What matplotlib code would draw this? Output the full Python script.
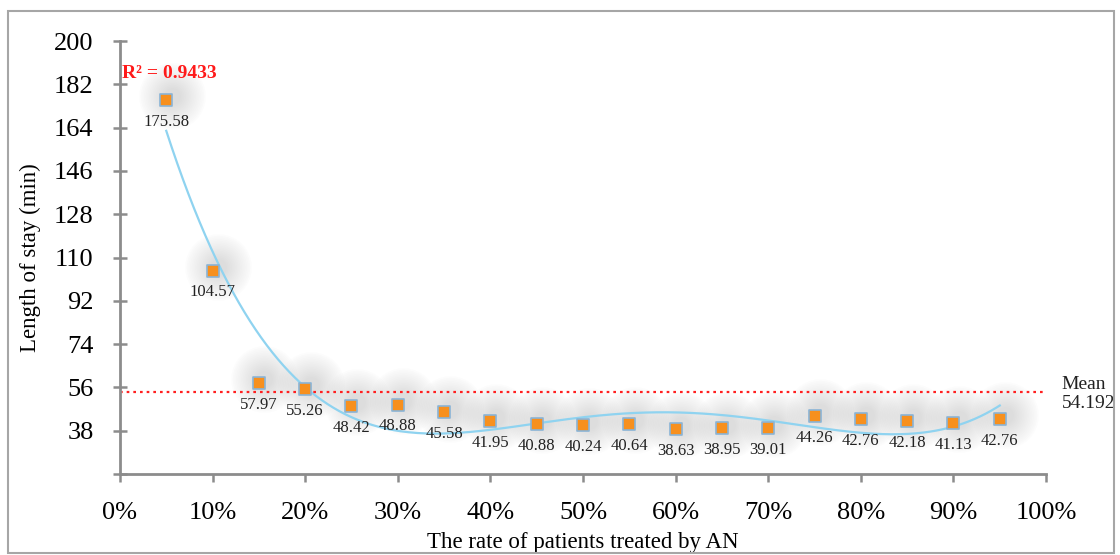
import numpy as np
import matplotlib
matplotlib.use("Agg")
import matplotlib.pyplot as plt
from matplotlib.patches import Rectangle

rates = [5, 10, 15, 20, 25, 30, 35, 40, 45, 50, 55, 60, 65, 70, 75, 80, 85, 90, 95]
stay = [175.58, 104.57, 57.97, 55.26, 48.42, 48.88, 45.58, 41.95, 40.88, 40.24,
        40.64, 38.63, 38.95, 39.01, 44.26, 42.76, 42.18, 41.13, 42.76]
mean_value = 54.192
r2_text = "R² = 0.9433"
yticks = [20, 38, 56, 74, 92, 110, 128, 146, 164, 182, 200]
xticks = [0, 10, 20, 30, 40, 50, 60, 70, 80, 90, 100]

plt.rcParams['font.family'] = ['Liberation Serif', 'DejaVu Serif']

fig = plt.figure(figsize=(11.2, 5.55), dpi=100)
ax = fig.add_axes([0.1071, 0.146, 0.8269, 0.780])

# figure border
fig.patches.append(Rectangle((0.007, 0.004), 0.988, 0.976, transform=fig.transFigure,
                             fill=False, edgecolor='#a6a6a6', lw=1.5, zorder=10))

x = np.array(rates, float)
y = np.array(stay, float)

# soft shadows
for r in np.linspace(48, 12, 16):
    ax.scatter(x + 0.6, y + 1.6, s=r**2, color='#7a7a7a', alpha=0.016, lw=0, zorder=1)

# polynomial trend line (order 4)
coef = np.polyfit(x, y, 4)
xs = np.linspace(5, 95, 300)
ax.plot(xs, np.polyval(coef, xs), color='#8fd3f0', lw=1.6, zorder=2)

# mean line
ax.plot([0, 100], [mean_value, mean_value], color='#ff2020', lw=1.6,
        linestyle=(0, (1.2, 1.8)), zorder=2)

ax.scatter(x, y, marker='s', s=80, color='#f7901e', edgecolor='#8ab4d6', lw=1.2, zorder=3)

for xi, yi in zip(x, y):
    ax.annotate(f"{yi:.2f}", (xi, yi), xytext=(0, -10), textcoords='offset points',
                ha='center', va='top', fontsize=12, color='#222222', zorder=4)

ax.text(0.2, 186.5, r2_text, color='#ff1a1a', fontsize=14, fontweight='bold',
        ha='left', va='center', family=['Liberation Serif'])
ax.text(101.7, mean_value - 1.0, f"Mean\n{mean_value:.3f}", fontsize=14, ha='left',
        va='center', color='#222222', linespacing=1.2)

ax.set_xlim(0, 100)
ax.set_ylim(20, 200)
ax.set_xticks(xticks)
ax.set_xticklabels([f"{t}%" for t in xticks], fontsize=19)
ax.set_yticks(yticks)
ax.set_yticklabels([''] + [str(t) for t in yticks[1:]], fontsize=19)
for s in ['top', 'right']:
    ax.spines[s].set_visible(False)
for s in ['left', 'bottom']:
    ax.spines[s].set_color('#8c8c8c')
    ax.spines[s].set_linewidth(2)
ax.tick_params(axis='y', direction='inout', length=10, width=1.8, color='#8c8c8c', pad=14)
ax.tick_params(axis='x', direction='out', length=6, width=1.8, color='#8c8c8c', pad=14)
ax.set_ylabel("Length of stay (min)", fontsize=16.5, labelpad=9)
ax.set_xlabel("The rate of patients treated by AN", fontsize=16.5, labelpad=6)

fig.savefig("out.png", dpi=100)
